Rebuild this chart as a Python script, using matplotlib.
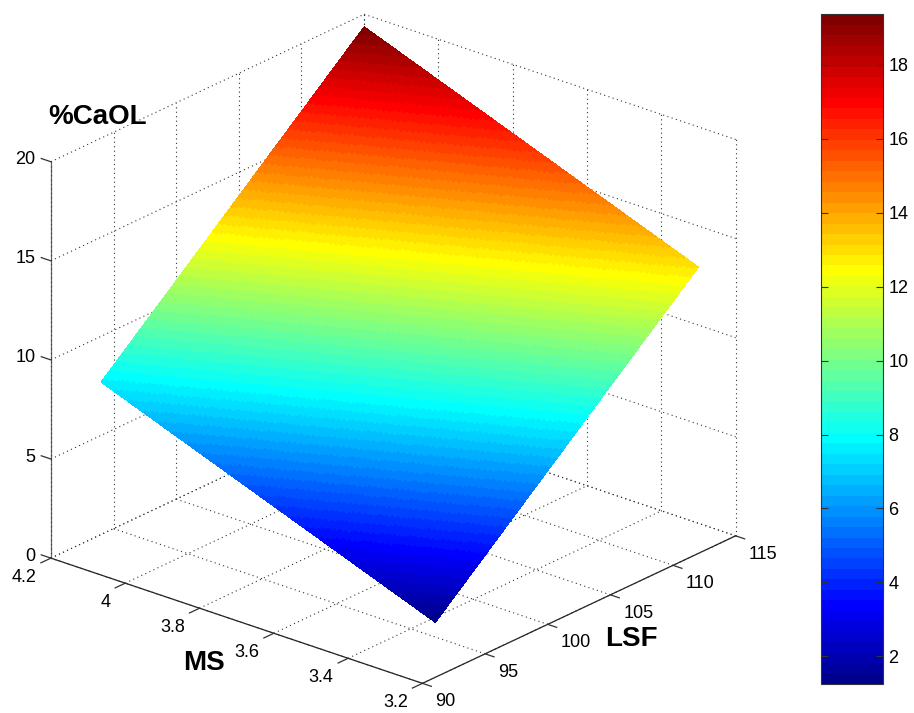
import numpy as np
import matplotlib
matplotlib.use("Agg")
import matplotlib.pyplot as plt
from matplotlib.colors import ListedColormap, Normalize
from mpl_toolkits.mplot3d import proj3d

# ---------------- data ----------------
ms_values = [3.3, 4.2]            # MS at the surface corners
lsf_values = [94.0, 115.0]        # LSF at the surface corners
caol_values = [[1.25, 12.93],     # MS = 3.3 : LSF = 94, 115
               [7.69, 19.37]]     # MS = 4.2 : LSF = 94, 115

ms_ticks = [3.2, 3.4, 3.6, 3.8, 4.0, 4.2]
ms_ticklabels = ["3.2", "3.4", "3.6", "3.8", "4", "4.2"]
lsf_ticks = [90, 95, 100, 105, 110, 115]
lsf_ticklabels = ["90", "95", "100", "105", "110", "115"]
caol_ticks = [0, 5, 10, 15, 20]
caol_ticklabels = ["0", "5", "10", "15", "20"]
cbar_ticks = [2, 4, 6, 8, 10, 12, 14, 16, 18]

MS_LIM = (4.2, 3.2)
LSF_LIM = (90, 115)
Z_LIM = (0, 20)

# ---------------- style ----------------
plt.rcParams["font.family"] = ["Liberation Sans", "DejaVu Sans"]
W, H = 914, 713
TICK_FS = 13
GRID = dict(color="#333333", linewidth=0.8, linestyle=(0, (1, 3)), zorder=0.5)
TICK = dict(color="#333333", linewidth=0.9, zorder=0.6)


def matlab_jet(n=64):
    m = int(np.ceil(n / 4))
    u = np.concatenate([np.arange(1, m + 1) / m, np.ones(m - 1), np.arange(m, 0, -1) / m])
    g = int(np.ceil(m / 2)) - (1 if n % 4 == 1 else 0) + np.arange(1, len(u) + 1)
    r = g + m
    b = g - m
    g = g[g <= n]
    r = r[r <= n]
    b = b[b >= 1]
    J = np.zeros((n, 3))
    J[r - 1, 0] = u[:len(r)]
    J[g - 1, 1] = u[:len(g)]
    J[b - 1, 2] = u[len(u) - len(b):]
    return ListedColormap(J)


cmap = matlab_jet(64)
zarr = np.array(caol_values)
norm = Normalize(vmin=zarr.min(), vmax=zarr.max())

fig = plt.figure(figsize=(W / 100, H / 100), dpi=100)
ax = fig.add_axes([0.0, 0.0, 0.7, 0.7 * W / H], projection="3d")
ax.set_proj_type("ortho")
ax.computed_zorder = False

# interpolated shading of the surface (like MATLAB 'shading interp')
N = 160
t = np.linspace(0.0, 1.0, N)
MS = ms_values[0] + (ms_values[1] - ms_values[0]) * t[:, None] * np.ones((1, N))
LS = lsf_values[0] + (lsf_values[1] - lsf_values[0]) * t[None, :] * np.ones((N, 1))
a = t[:, None]
bb = t[None, :]
Z = (zarr[0, 0] * (1 - a) * (1 - bb) + zarr[0, 1] * (1 - a) * bb
     + zarr[1, 0] * a * (1 - bb) + zarr[1, 1] * a * bb)
surf = ax.plot_surface(MS, LS, Z, cmap=cmap, norm=norm, rstride=1, cstride=1,
                       linewidth=0, antialiased=False, zorder=2)

# ---- dotted grid on the floor and the two back walls ----
for v in ms_ticks:
    ax.plot([v, v], list(LSF_LIM), [0, 0], **GRID)                     # floor
    ax.plot([v, v], [LSF_LIM[1]] * 2, list(Z_LIM), **GRID)             # back wall LSF=115
for v in lsf_ticks:
    ax.plot(list(MS_LIM), [v, v], [0, 0], **GRID)                      # floor
    ax.plot([MS_LIM[0]] * 2, [v, v], list(Z_LIM), **GRID)              # back wall MS=4.2
for v in caol_ticks:
    ax.plot([MS_LIM[0]] * 2, list(LSF_LIM), [v, v], **GRID)
    ax.plot(list(MS_LIM), [LSF_LIM[1]] * 2, [v, v], **GRID)

# ---- tick marks ----
for v in ms_ticks:
    ax.plot([v, v], [LSF_LIM[0], LSF_LIM[0] - 0.8], [0, 0], **TICK)
for v in lsf_ticks:
    ax.plot([MS_LIM[1], MS_LIM[1] - 0.024], [v, v], [0, 0], **TICK)
for v in caol_ticks:
    ax.plot([MS_LIM[0], MS_LIM[0] + 0.026], [LSF_LIM[0]] * 2, [v, v], **TICK)

ax.set_xlim(*MS_LIM)
ax.set_ylim(*LSF_LIM)
ax.set_zlim(*Z_LIM)
ax.set_xticks([])
ax.set_yticks([])
ax.set_zticks([])
ax.zaxis.set_ticks_position("lower")
ax.set_box_aspect((1.0, 0.9965, 0.888))
ax.view_init(elev=23.48, azim=-49.77)

for axis in (ax.xaxis, ax.yaxis, ax.zaxis):
    axis.set_pane_color((1, 1, 1, 0))
    axis.pane.set_edgecolor((1, 1, 1, 0))
    axis.line.set_color("#222222")
    axis.line.set_linewidth(0.9)
ax.zaxis.line.set_color("#666666")


def to_px(x, y, z):
    xs, ys, _ = proj3d.proj_transform(x, y, z, ax.get_proj())
    return ax.transData.transform((xs, ys))


# ---- fit the box to the reference placement (layout only) ----
pts3d = [(4.2, 90, 0), (3.2, 90, 0), (3.2, 115, 0), (4.2, 115, 20), (4.2, 90, 20)]
targets = np.array([(50.7, 558.3), (421.7, 683.3), (735.0, 536.0), (366.0, 14.0), (50.7, 161.7)])
targets[:, 1] = H - targets[:, 1]

for _ in range(3):
    fig.canvas.draw()
    P = np.array([to_px(*p) for p in pts3d])
    pos = ax.get_position(original=False)
    L, B, S = pos.x0 * W, pos.y0 * H, pos.width * W
    q = (P - np.array([L, B])) / S
    rows, rhs = [], []
    for (qx, qy), (tx, ty) in zip(q, targets):
        rows.append([1, 0, qx]); rhs.append(tx)
        rows.append([0, 1, qy]); rhs.append(ty)
    sol, *_ = np.linalg.lstsq(np.array(rows), np.array(rhs), rcond=None)
    Ax, Ay, Sn = sol
    ax.set_position([Ax / W, Ay / H, Sn / W, Sn / H])
fig.canvas.draw()


def label_at(x, y, z, s, dx, dy, ha):
    px, py = to_px(x, y, z)
    fig.text((px + dx) / W, (py + dy) / H, s, ha=ha, va="baseline", fontsize=TICK_FS)


# ---- tick labels, MATLAB style placement ----
for v, lab in zip(ms_ticks, ms_ticklabels):
    label_at(v, LSF_LIM[0], 0, lab, -14.5, -23.5, "right")
for v, lab in zip(lsf_ticks, lsf_ticklabels):
    label_at(MS_LIM[1], v, 0, lab, 13, -23, "left")
for v, lab in zip(caol_ticks, caol_ticklabels):
    label_at(MS_LIM[0], LSF_LIM[0], v, lab, -15.5, -2.5, "right")

# ---- axis titles ----
fig.text(98 / W, 1 - 117 / H, "%CaOL", ha="center", va="center", fontsize=20, fontweight="bold")
fig.text(204 / W, 1 - 663 / H, "MS", ha="center", va="center", fontsize=20, fontweight="bold")
fig.text(631 / W, 1 - 639 / H, "LSF", ha="center", va="center", fontsize=20, fontweight="bold")

# ---- colorbar ----
cax = fig.add_axes([820.7 / W, 1 - 684 / H, 62 / W, (684 - 14.3) / H])
cb = fig.colorbar(surf, cax=cax, ticks=cbar_ticks)
cb.outline.set_edgecolor("#333333")
cb.outline.set_linewidth(0.8)
cax.tick_params(axis="y", direction="in", left=True, right=True, length=5,
                width=0.8, labelsize=TICK_FS, pad=4, colors="#333333", labelcolor="black")

fig.savefig("out.png", dpi=100)
